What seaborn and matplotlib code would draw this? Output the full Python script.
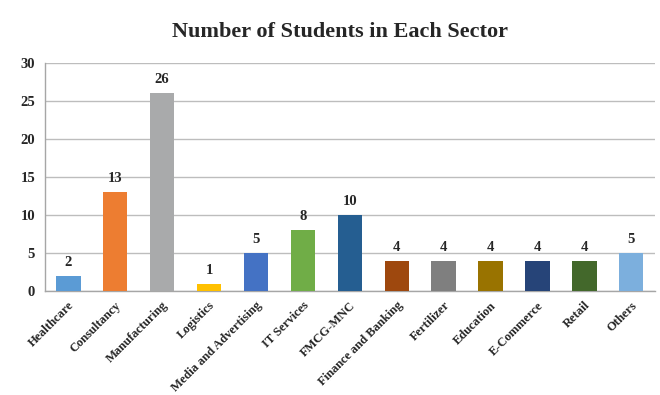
import matplotlib
matplotlib.use("Agg")
import matplotlib.pyplot as plt
import numpy as np
import pandas as pd
import seaborn as sns

sectors = ["Healthcare", "Consultancy", "Manufacturing", "Logistics",
           "Media and Advertising", "IT Services", "FMCG-MNC",
           "Finance and Banking", "Fertilizer", "Education",
           "E-Commerce", "Retail", "Others"]
students = [2, 13, 26, 1, 5, 8, 10, 4, 4, 4, 4, 4, 5]
bar_colors = ["#5B9BD5", "#ED7D31", "#A9AAAB", "#FFC000", "#4472C4",
              "#70AD47", "#255E91", "#9E480E", "#7F7F7F", "#997300",
              "#264478", "#43682B", "#7CAFDD"]
y_ticks = [0, 5, 10, 15, 20, 25, 30]

df = pd.DataFrame({"sector": sectors, "students": students})

sns.set_style("white")
plt.rcParams["font.family"] = ["Liberation Serif", "DejaVu Serif"]
plt.rcParams["font.weight"] = "bold"

fig = plt.figure(figsize=(6.6, 3.95), dpi=100)
ax = fig.add_axes([0.068, 0.263, 0.924, 0.578])

sns.barplot(data=df, x="sector", y="students", hue="sector",
            palette=bar_colors, legend=False, width=0.52,
            saturation=1, ax=ax, zorder=3, linewidth=0)

for i, v in enumerate(students):
    ax.text(i, v + 0.9, str(v), ha="center", va="bottom",
            fontsize=10.5, fontweight="bold", color="#262626")

ax.set_ylim(0, 30)
ax.set_xlim(-0.5, len(sectors) - 0.5)
ax.set_yticks(y_ticks)
ax.set_yticklabels([str(t) for t in y_ticks], fontsize=10.5, fontweight="bold",
                   color="#262626")
ax.yaxis.grid(True, color="#BDBDBD", linewidth=1.0, zorder=0)
ax.set_axisbelow(True)

ax.set_xticks(range(len(sectors)))
ax.set_xticklabels(sectors, rotation=45, ha="right", rotation_mode="anchor",
                   fontsize=9, fontweight="bold", color="#262626")
ax.set_xticks(np.arange(-0.5, len(sectors), 1.0), minor=True)
ax.tick_params(axis="x", which="major", length=0, pad=6)
ax.tick_params(axis="x", which="minor", length=5, color="#A6A6A6", width=1)
ax.tick_params(axis="y", which="major", length=4, color="#A6A6A6", width=1,
               pad=3)

for side in ["top", "right"]:
    ax.spines[side].set_visible(False)
for side in ["left", "bottom"]:
    ax.spines[side].set_color("#A6A6A6")
    ax.spines[side].set_linewidth(1.0)

ax.set_xlabel("")
ax.set_ylabel("")

fig.suptitle("Number of Students in Each Sector", x=0.515, y=0.945,
             fontsize=16, fontweight="bold", color="#262626")

fig.savefig("out.png", dpi=100, facecolor="white")
